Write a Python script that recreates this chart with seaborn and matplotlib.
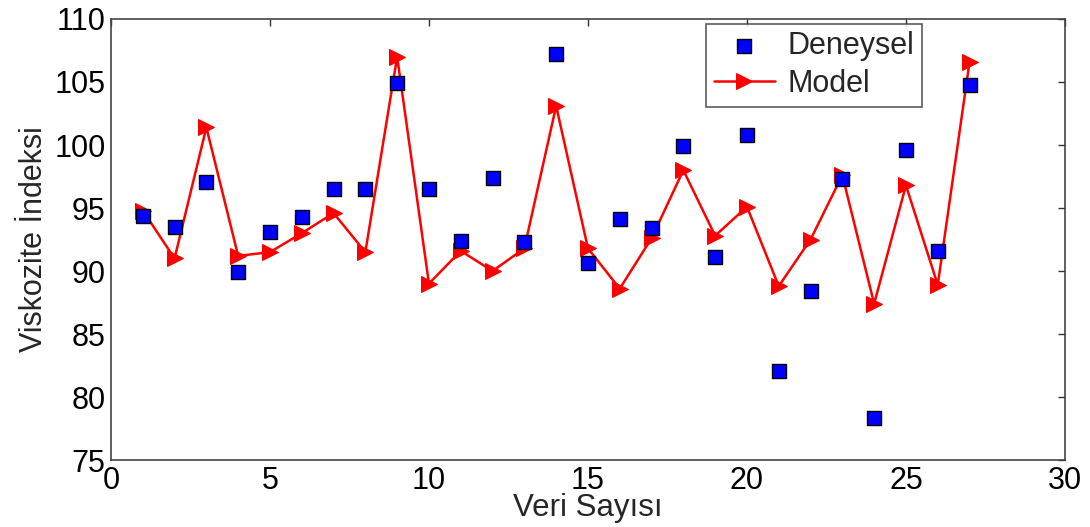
import numpy as np
import pandas as pd
import matplotlib
matplotlib.use("Agg")
import matplotlib.pyplot as plt
import seaborn as sns

veri = list(range(1, 28))
deneysel = [94.4, 93.5, 97.1, 89.9, 93.1, 94.3, 96.5, 96.5, 104.9, 96.5,
            92.4, 97.4, 92.3, 107.2, 90.6, 94.1, 93.4, 99.9, 91.1, 100.8,
            82.1, 88.4, 97.3, 78.3, 99.6, 91.6, 104.8]
model = [94.8, 91.0, 101.4, 91.2, 91.5, 93.0, 94.6, 91.5, 107.0, 89.0,
         91.6, 90.0, 91.8, 103.1, 91.8, 88.6, 92.6, 98.0, 92.8, 95.1,
         88.8, 92.5, 97.6, 87.4, 96.8, 88.9, 106.6]
xticks = [0, 5, 10, 15, 20, 25, 30]
yticks = [75, 80, 85, 90, 95, 100, 105, 110]

df = pd.DataFrame({"veri": veri, "deneysel": deneysel, "model": model})

sns.set_theme(style="white")
plt.rcParams["font.family"] = ["Liberation Sans", "DejaVu Sans"]

fig = plt.figure(figsize=(10.9, 5.27), dpi=100)
ax = fig.add_axes([0.1018, 0.127, 0.8752, 0.837])

sns.lineplot(data=df, x="veri", y="model", ax=ax, color="red", linewidth=1.8,
             marker=">", markersize=12, markeredgecolor="red",
             markerfacecolor="red", label="Model", zorder=2)
sns.scatterplot(data=df, x="veri", y="deneysel", ax=ax, marker="s", s=100,
                color="blue", edgecolor="black", linewidth=1.0,
                label="Deneysel", zorder=3)

ax.set_xlim(0, 30)
ax.set_ylim(75, 110)
ax.set_xticks(xticks)
ax.set_yticks(yticks)
ax.tick_params(direction="in", length=5, width=1, top=True, right=True,
               labelsize=22, colors="#333333", labelcolor="black", pad=4)
for s in ax.spines.values():
    s.set_visible(True)
    s.set_color("#444444")
    s.set_linewidth(1.2)
ax.set_xlabel("Veri Sayısı", fontsize=22.5, labelpad=-2)
ax.set_ylabel("Viskozite İndeksi", fontsize=22, labelpad=4)

handles, labels = ax.get_legend_handles_labels()
order = [labels.index("Deneysel"), labels.index("Model")]
leg = ax.legend([handles[i] for i in order], [labels[i] for i in order],
                loc="upper left", bbox_to_anchor=(0.624, 0.989),
                fontsize=22, frameon=True, fancybox=False,
                edgecolor="#333333", borderpad=0.25, labelspacing=0.25,
                handletextpad=0.4, borderaxespad=0)
leg.get_frame().set_linewidth(1.2)

fig.savefig("out.png", dpi=100)
